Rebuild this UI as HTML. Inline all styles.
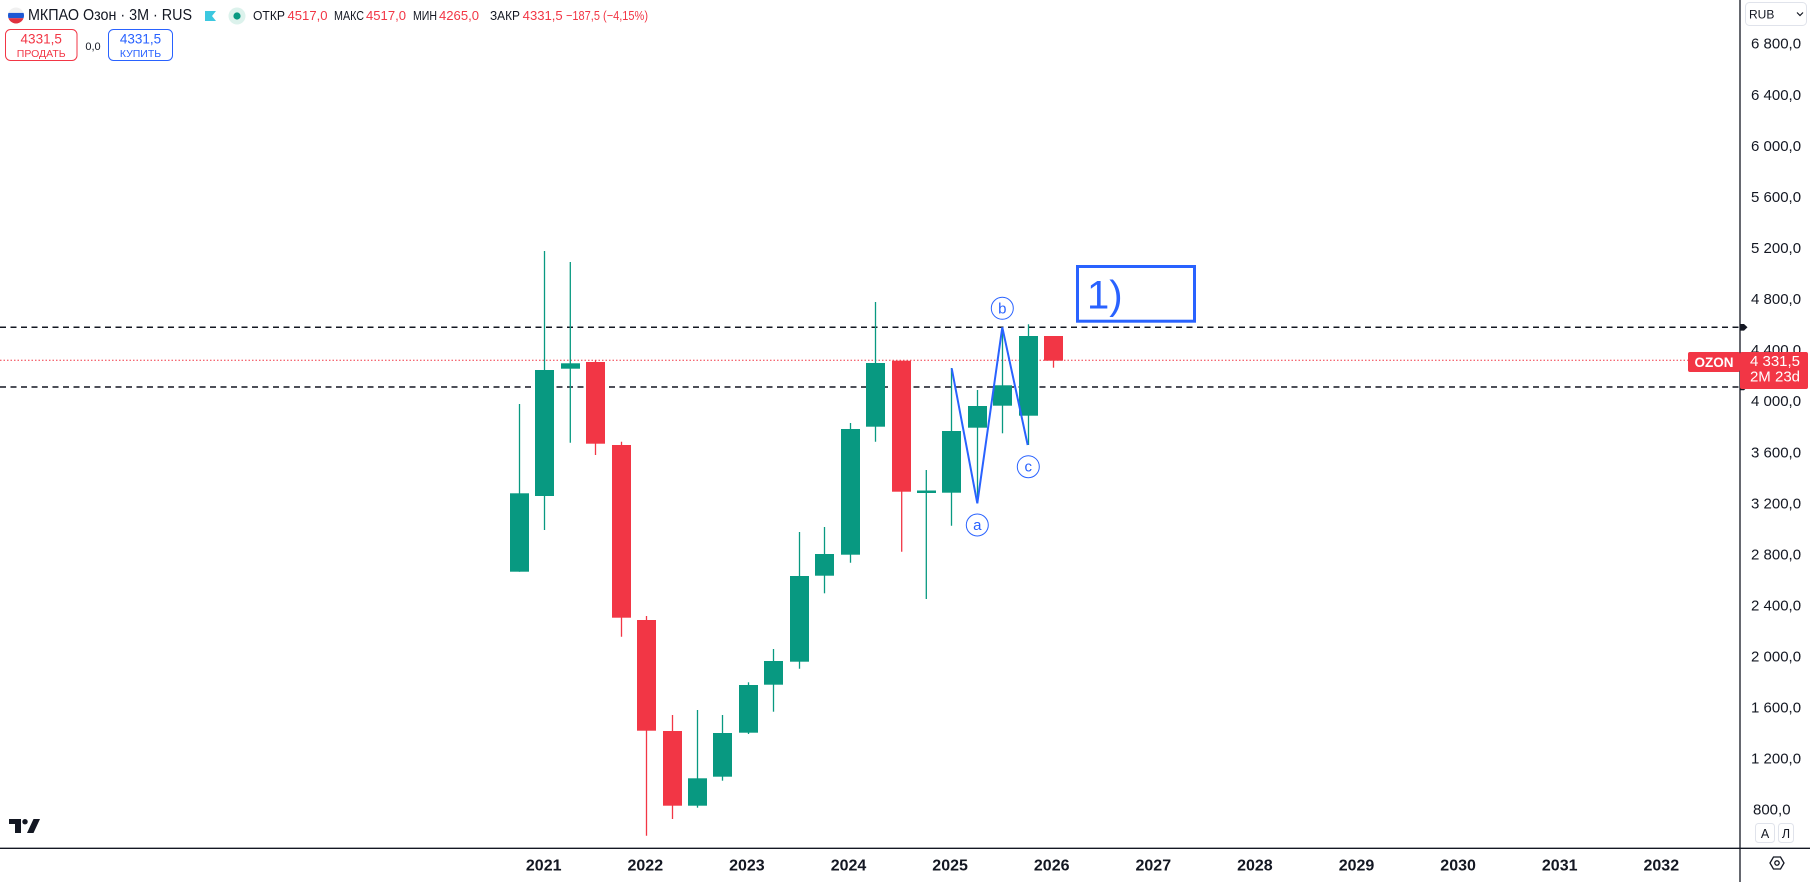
<!DOCTYPE html>
<html>
<head>
<meta charset="utf-8">
<style>
  html,body{margin:0;padding:0;background:#fff;}
  body{width:1810px;height:882px;overflow:hidden;position:relative;font-family:"Liberation Sans",Arial,sans-serif;}
  svg{position:absolute;left:0;top:0;}
  text{font-family:"Liberation Sans",Arial,sans-serif;}
</style>
</head>
<body>
<svg width="1810" height="882" viewBox="0 0 1810 882" xmlns="http://www.w3.org/2000/svg">
  <rect x="0" y="0" width="1810" height="882" fill="#ffffff"/>

  <!-- horizontal level lines -->
  <line x1="0" y1="327.3" x2="1740" y2="327.3" stroke="#131722" stroke-width="1.5" stroke-dasharray="6 4.5"/>
  <line x1="0" y1="387" x2="1740" y2="387" stroke="#131722" stroke-width="1.5" stroke-dasharray="6 4.5"/>
  <line x1="0" y1="360.3" x2="1688" y2="360.3" stroke="#f23645" stroke-width="1" stroke-dasharray="1.5 2"/>

  <!-- candles -->
  <g stroke-width="1.3">
    <line x1="519.5" y1="404" x2="519.5" y2="571.7" stroke="#089981"/>
    <rect x="510" y="493.3" width="19" height="78.4" fill="#089981"/>
    <line x1="544.5" y1="251" x2="544.5" y2="530" stroke="#089981"/>
    <rect x="535" y="370" width="19" height="126" fill="#089981"/>
    <line x1="570.3" y1="262" x2="570.3" y2="442.7" stroke="#089981"/>
    <rect x="561" y="363.3" width="19" height="5.4" fill="#089981"/>
    <line x1="595.5" y1="360" x2="595.5" y2="455" stroke="#f23645"/>
    <rect x="586" y="362" width="19" height="81.7" fill="#f23645"/>
    <line x1="621.5" y1="441.7" x2="621.5" y2="636.7" stroke="#f23645"/>
    <rect x="612" y="445" width="19" height="172.7" fill="#f23645"/>
    <line x1="646.5" y1="616" x2="646.5" y2="835.7" stroke="#f23645"/>
    <rect x="637" y="620" width="19" height="110.7" fill="#f23645"/>
    <line x1="672.5" y1="715" x2="672.5" y2="819" stroke="#f23645"/>
    <rect x="663" y="731" width="19" height="74.7" fill="#f23645"/>
    <line x1="697.5" y1="710" x2="697.5" y2="807.7" stroke="#089981"/>
    <rect x="688" y="778.3" width="19" height="27.4" fill="#089981"/>
    <line x1="722.5" y1="715" x2="722.5" y2="780.7" stroke="#089981"/>
    <rect x="713" y="733" width="19" height="43.7" fill="#089981"/>
    <line x1="748.5" y1="682.3" x2="748.5" y2="734" stroke="#089981"/>
    <rect x="739" y="685" width="19" height="47.7" fill="#089981"/>
    <line x1="773.5" y1="649" x2="773.5" y2="711.7" stroke="#089981"/>
    <rect x="764" y="661" width="19" height="23.7" fill="#089981"/>
    <line x1="799.5" y1="532" x2="799.5" y2="668.7" stroke="#089981"/>
    <rect x="790" y="576" width="19" height="85.7" fill="#089981"/>
    <line x1="824.5" y1="527" x2="824.5" y2="593.3" stroke="#089981"/>
    <rect x="815" y="554" width="19" height="21.7" fill="#089981"/>
    <line x1="850.5" y1="423" x2="850.5" y2="562.7" stroke="#089981"/>
    <rect x="841" y="429" width="19" height="125.7" fill="#089981"/>
    <line x1="875.5" y1="302" x2="875.5" y2="441.7" stroke="#089981"/>
    <rect x="866" y="363" width="19" height="63.7" fill="#089981"/>
    <line x1="901.7" y1="360.7" x2="901.7" y2="551.7" stroke="#f23645"/>
    <rect x="892" y="360.7" width="19" height="131" fill="#f23645"/>
    <line x1="926.3" y1="470" x2="926.3" y2="599" stroke="#089981"/>
    <rect x="917" y="490.5" width="19" height="2.5" fill="#089981"/>
    <line x1="951.5" y1="368" x2="951.5" y2="525.7" stroke="#089981"/>
    <rect x="942" y="431" width="19" height="61.7" fill="#089981"/>
    <line x1="977.5" y1="390" x2="977.5" y2="503.3" stroke="#089981"/>
    <rect x="968" y="406" width="19" height="21.7" fill="#089981"/>
    <line x1="1002.5" y1="330" x2="1002.5" y2="433.3" stroke="#089981"/>
    <rect x="993" y="385.3" width="19" height="20.4" fill="#089981"/>
    <line x1="1028.5" y1="324.3" x2="1028.5" y2="445" stroke="#089981"/>
    <rect x="1019" y="336" width="19" height="79.7" fill="#089981"/>
    <line x1="1053.5" y1="336" x2="1053.5" y2="367.7" stroke="#f23645"/>
    <rect x="1044" y="336" width="19" height="24.7" fill="#f23645"/>
  </g>

  <!-- zigzag -->
  <polyline points="951.7,368.3 977.3,503.3 1002.3,327.3 1027.7,445" fill="none" stroke="#2962ff" stroke-width="2" stroke-linejoin="miter"/>
  <circle cx="1002.3" cy="308.3" r="11" fill="#fff" stroke="#2962ff" stroke-width="1"/>
  <text x="1002.3" y="313.5" font-size="15" fill="#2962ff" text-anchor="middle">b</text>
  <circle cx="977.3" cy="525" r="11" fill="#fff" stroke="#2962ff" stroke-width="1"/>
  <text x="977.3" y="530" font-size="15" fill="#2962ff" text-anchor="middle">a</text>
  <circle cx="1028.3" cy="466.7" r="11" fill="#fff" stroke="#2962ff" stroke-width="1"/>
  <text x="1028.3" y="471.7" font-size="15" fill="#2962ff" text-anchor="middle">c</text>

  <!-- 1) box -->
  <rect x="1077.5" y="266.5" width="117" height="54.7" fill="none" stroke="#2962ff" stroke-width="3"/>
  <text x="1087" y="308.5" font-size="40" fill="#2962ff">1)</text>

  <!-- axes -->
  <line x1="1740" y1="0" x2="1740" y2="882" stroke="#131722" stroke-width="1.3"/>
  <line x1="0" y1="848.3" x2="1810" y2="848.3" stroke="#131722" stroke-width="1.3"/>

  <polygon points="1740,324 1744,324 1747.5,327.3 1744,330.6 1740,330.6" fill="#131722"/>
  <polygon points="1740,383.7 1744,383.7 1747.5,387 1744,390.3 1740,390.3" fill="#131722"/>

  <!-- price axis labels -->
  <g font-size="15" fill="#131722">
    <text x="1751" y="48.7">6 800,0</text>
    <text x="1751" y="99.8">6 400,0</text>
    <text x="1751" y="150.8">6 000,0</text>
    <text x="1751" y="201.9">5 600,0</text>
    <text x="1751" y="253">5 200,0</text>
    <text x="1751" y="304.1">4 800,0</text>
    <text x="1751" y="355.1">4 400,0</text>
    <text x="1751" y="406.2">4 000,0</text>
    <text x="1751" y="457.3">3 600,0</text>
    <text x="1751" y="508.3">3 200,0</text>
    <text x="1751" y="559.4">2 800,0</text>
    <text x="1751" y="610.5">2 400,0</text>
    <text x="1751" y="661.5">2 000,0</text>
    <text x="1751" y="712.6">1 600,0</text>
    <text x="1751" y="763.7">1 200,0</text>
    <text x="1753" y="814.7">800,0</text>
  </g>

  <!-- price label -->
  <rect x="1688" y="352" width="52" height="20" rx="2" fill="#f23645"/>
  <text x="1714" y="366.8" font-size="13.5" font-weight="bold" fill="#fff" text-anchor="middle">OZON</text>
  <rect x="1740" y="352" width="68" height="37" rx="2" fill="#f23645"/>
  <text x="1775" y="366" font-size="15" fill="#fff" text-anchor="middle">4 331,5</text>
  <text x="1775" y="381.5" font-size="15" fill="#fff" text-anchor="middle">2M 23d</text>

  <!-- RUB button -->
  <rect x="1745.5" y="2.5" width="61" height="23" rx="4" fill="#fff" stroke="#e0e3eb" stroke-width="1"/>
  <text x="1749" y="18.5" font-size="12" fill="#131722">RUB</text>
  <polyline points="1797,12.5 1800,15.5 1803,12.5" fill="none" stroke="#131722" stroke-width="1.2"/>

  <!-- A / Л buttons -->
  <rect x="1755.5" y="823.5" width="19" height="19" rx="3" fill="#fff" stroke="#e0e3eb"/>
  <text x="1765" y="838" font-size="12.5" fill="#131722" text-anchor="middle">A</text>
  <rect x="1778.5" y="823.5" width="15" height="19" rx="3" fill="#fff" stroke="#e0e3eb"/>
  <text x="1786" y="838" font-size="12.5" fill="#131722" text-anchor="middle">Л</text>

  <!-- settings icon -->
  <polygon points="1770,863 1773.5,857 1780.5,857 1784,863 1780.5,869 1773.5,869" fill="none" stroke="#131722" stroke-width="1.3"/>
  <circle cx="1777" cy="863" r="2.2" fill="none" stroke="#131722" stroke-width="1.3"/>

  <!-- time axis labels -->
  <g font-size="16" font-weight="bold" fill="#131722" text-anchor="middle">
    <text x="543.7" y="870.5">2021</text>
    <text x="645.3" y="870.5">2022</text>
    <text x="746.9" y="870.5">2023</text>
    <text x="848.5" y="870.5">2024</text>
    <text x="950.1" y="870.5">2025</text>
    <text x="1051.7" y="870.5">2026</text>
    <text x="1153.3" y="870.5">2027</text>
    <text x="1254.9" y="870.5">2028</text>
    <text x="1356.5" y="870.5">2029</text>
    <text x="1458.1" y="870.5">2030</text>
    <text x="1559.7" y="870.5">2031</text>
    <text x="1661.3" y="870.5">2032</text>
  </g>

  <!-- TV logo -->
  <g fill="#131722">
    <rect x="9" y="819" width="12" height="5"/>
    <rect x="15" y="819" width="6" height="14"/>
    <circle cx="25" cy="821.7" r="2.7"/>
    <polygon points="27,833 33.5,819 40,819 33.5,833"/>
  </g>

  <!-- header -->
  <defs>
    <clipPath id="flagclip"><circle cx="16" cy="15.5" r="8"/></clipPath>
  </defs>
  <g clip-path="url(#flagclip)">
    <rect x="8" y="7.5" width="16" height="5.4" fill="#f0f0f0"/>
    <rect x="8" y="12.9" width="16" height="5.3" fill="#1c57d4"/>
    <rect x="8" y="18.2" width="16" height="5.4" fill="#e0313f"/>
  </g>
  <text x="28" y="20" font-size="15.5" fill="#131722" textLength="164" lengthAdjust="spacingAndGlyphs">МКПАО Озон · 3М · RUS</text>
  <polygon points="205,11 216,11 212,16 216,21 205,21" fill="#3cc8e0"/>
  <circle cx="237" cy="16" r="8.5" fill="#dcf2ec"/>
  <circle cx="237" cy="16" r="3.6" fill="#089981"/>
  <g font-size="13">
    <text x="253" y="20" fill="#131722" textLength="32" lengthAdjust="spacingAndGlyphs">ОТКР</text>
    <text x="287.5" y="20" fill="#f23645" textLength="40" lengthAdjust="spacingAndGlyphs">4517,0</text>
    <text x="334" y="20" fill="#131722" textLength="30" lengthAdjust="spacingAndGlyphs">МАКС</text>
    <text x="366" y="20" fill="#f23645" textLength="40" lengthAdjust="spacingAndGlyphs">4517,0</text>
    <text x="413" y="20" fill="#131722" textLength="24" lengthAdjust="spacingAndGlyphs">МИН</text>
    <text x="439" y="20" fill="#f23645" textLength="40" lengthAdjust="spacingAndGlyphs">4265,0</text>
    <text x="490" y="20" fill="#131722" textLength="30" lengthAdjust="spacingAndGlyphs">ЗАКР</text>
    <text x="522.7" y="20" fill="#f23645" textLength="40" lengthAdjust="spacingAndGlyphs">4331,5</text>
    <text x="566" y="20" fill="#f23645" textLength="82" lengthAdjust="spacingAndGlyphs">−187,5 (−4,15%)</text>
  </g>

  <!-- sell / buy -->
  <rect x="5.5" y="29.5" width="71.5" height="31" rx="5" fill="#fff" stroke="#f23645" stroke-width="1"/>
  <text x="41.2" y="43.5" font-size="13.5" fill="#f23645" text-anchor="middle">4331,5</text>
  <text x="41.2" y="57" font-size="10.5" fill="#f23645" text-anchor="middle">ПРОДАТЬ</text>
  <text x="93" y="50" font-size="11" fill="#131722" text-anchor="middle">0,0</text>
  <rect x="108.5" y="29.5" width="64" height="31" rx="5" fill="#fff" stroke="#2962ff" stroke-width="1"/>
  <text x="140.5" y="43.5" font-size="13.5" fill="#2962ff" text-anchor="middle">4331,5</text>
  <text x="140.5" y="57" font-size="10.5" fill="#2962ff" text-anchor="middle">КУПИТЬ</text>
</svg>
</body>
</html>
